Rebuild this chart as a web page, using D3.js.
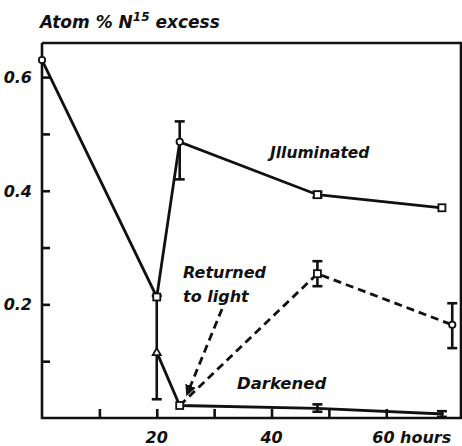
<!DOCTYPE html>
<meta charset="utf-8">
<style>
body { margin: 0; background: #fff; }
text { font-family: "DejaVu Sans", sans-serif; font-weight: bold; font-style: italic; fill: #111; }
</style>
<svg width="462" height="446"></svg>
<script src="https://d3js.org/d3.v7.min.js"></script>
<script>

// values (hours, atom % N15 excess)
var illumHours = [0, 20, 24, 48, 69.7],
    illumValues = [0.63, 0.213, 0.486, 0.393, 0.37],
    illumMarks = ["circle", "square", "circle", "square", "square"];

var darkHours = [20, 24, 48, 70],
    darkValues = [0.116, 0.022, 0.017, 0.007],
    darkMarks = ["triangle", "square", "none", "none"];

var returnHours = [24, 48, 71.5],
    returnValues = [0.022, 0.254, 0.164],
    returnMarks = ["none", "square", "circle"];

// error bars: hour, low, high
var errHours = [24, 20, 48, 71.5, 48, 48, 69.7],
    errLow = [0.42, 0.033, 0.232, 0.123, 0.388, 0.011, 0.002],
    errHigh = [0.522, 0.215, 0.276, 0.202, 0.398, 0.024, 0.012];

var yTicks = [0.1, 0.2, 0.3, 0.4, 0.5, 0.6],
    yLabels = {0.2: "0.2", 0.4: "0.4", 0.6: "0.6"},
    xTicks = [10, 20, 30, 40, 50, 60],
    xLabels = {20: "20", 40: "40", 60: "60 hours"};

var svg = d3.select("svg");

var x = d3.scaleLinear().domain([0, 73.2]).range([42, 462]);
var y = d3.scaleLinear().domain([0, 0.66]).range([418, 43]);

// frame
svg.append("path")
    .attr("d", "M42,43 V418 H461 V43 H42")
    .attr("fill", "none").attr("stroke", "#111").attr("stroke-width", 2.6);

// axes with inward ticks
var yAxis = svg.append("g").attr("transform", "translate(42,0)")
    .call(d3.axisRight(y).tickValues(yTicks).tickSize(8).tickFormat(""));
var xAxis = svg.append("g").attr("transform", "translate(0,418)")
    .call(d3.axisTop(x).tickValues(xTicks).tickSize(9).tickFormat(""));
[yAxis, xAxis].forEach(function(a) {
  a.select(".domain").remove();
  a.selectAll("line").attr("stroke", "#111").attr("stroke-width", 2.6);
});

svg.selectAll(".ylab").data(yTicks.filter(function(d) { return yLabels[d]; }))
  .enter().append("text")
    .attr("x", 32).attr("y", function(d) { return y(d) + 6; })
    .attr("text-anchor", "end").attr("font-size", 16)
    .text(function(d) { return yLabels[d]; });

svg.selectAll(".xlab").data(xTicks.filter(function(d) { return xLabels[d]; }))
  .enter().append("text")
    .attr("x", function(d) { return d == 60 ? x(d) - 14 : x(d); })
    .attr("y", 443)
    .attr("text-anchor", function(d) { return d == 60 ? "start" : "middle"; })
    .attr("font-size", 16)
    .text(function(d) { return xLabels[d]; });

// title
var t = svg.append("text").attr("x", 40).attr("y", 28).attr("font-size", 17);
t.append("tspan").text("Atom % N");
t.append("tspan").attr("dy", -7).attr("font-size", 12).text("15");
t.append("tspan").attr("dy", 7).text(" excess");

var line = d3.line().x(function(d) { return x(d[0]); }).y(function(d) { return y(d[1]); });

function series(hours, values, dashed) {
  svg.append("path")
    .attr("d", line(d3.zip(hours, values)))
    .attr("fill", "none").attr("stroke", "#111").attr("stroke-width", 2.8)
    .attr("stroke-dasharray", dashed ? "8,5" : null);
}
series(illumHours, illumValues, false);
series(darkHours, darkValues, false);
series(returnHours, returnValues, true);

// error bars
errHours.forEach(function(h, i) {
  var g = svg.append("g").attr("stroke", "#111").attr("stroke-width", 2.6);
  g.append("line").attr("x1", x(h)).attr("x2", x(h)).attr("y1", y(errLow[i])).attr("y2", y(errHigh[i]));
  [errLow[i], errHigh[i]].forEach(function(v) {
    g.append("line").attr("x1", x(h) - 5).attr("x2", x(h) + 5).attr("y1", y(v)).attr("y2", y(v));
  });
});

// markers
function marks(hours, values, kinds) {
  hours.forEach(function(h, i) {
    var cx = x(h), cy = y(values[i]), k = kinds[i];
    if (k == "circle") {
      svg.append("circle").attr("cx", cx).attr("cy", cy).attr("r", 3.2)
        .attr("fill", "#fff").attr("stroke", "#111").attr("stroke-width", 1.8);
    } else if (k == "square") {
      svg.append("rect").attr("x", cx - 3.5).attr("y", cy - 3.5).attr("width", 7).attr("height", 7)
        .attr("fill", "#fff").attr("stroke", "#111").attr("stroke-width", 1.8);
    } else if (k == "triangle") {
      svg.append("path").attr("d", "M" + cx + "," + (cy - 4) + " l4,7 h-8 z")
        .attr("fill", "#fff").attr("stroke", "#111").attr("stroke-width", 1.8);
    }
  });
}
marks(illumHours, illumValues, illumMarks);
marks(darkHours, darkValues, darkMarks);
marks(returnHours, returnValues, returnMarks);

// labels
svg.append("text").attr("x", 270).attr("y", 158).attr("font-size", 15.5).text("Jlluminated");
svg.append("text").attr("x", 183).attr("y", 278).attr("font-size", 16).text("Returned");
svg.append("text").attr("x", 183).attr("y", 302).attr("font-size", 16).text("to light");
svg.append("text").attr("x", 237).attr("y", 389).attr("font-size", 16.5).text("Darkened");

// dashed arrow from label to the return point
svg.append("defs").append("marker")
    .attr("id", "head").attr("viewBox", "0 0 10 10").attr("refX", 6).attr("refY", 5)
    .attr("markerWidth", 4).attr("markerHeight", 4).attr("orient", "auto")
  .append("path").attr("d", "M0,0 L10,5 L0,10 z").attr("fill", "#111");
svg.append("line")
    .attr("x1", 222).attr("y1", 309).attr("x2", 188).attr("y2", 392)
    .attr("stroke", "#111").attr("stroke-width", 2.8).attr("stroke-dasharray", "8,5")
    .attr("marker-end", "url(#head)");

</script>
